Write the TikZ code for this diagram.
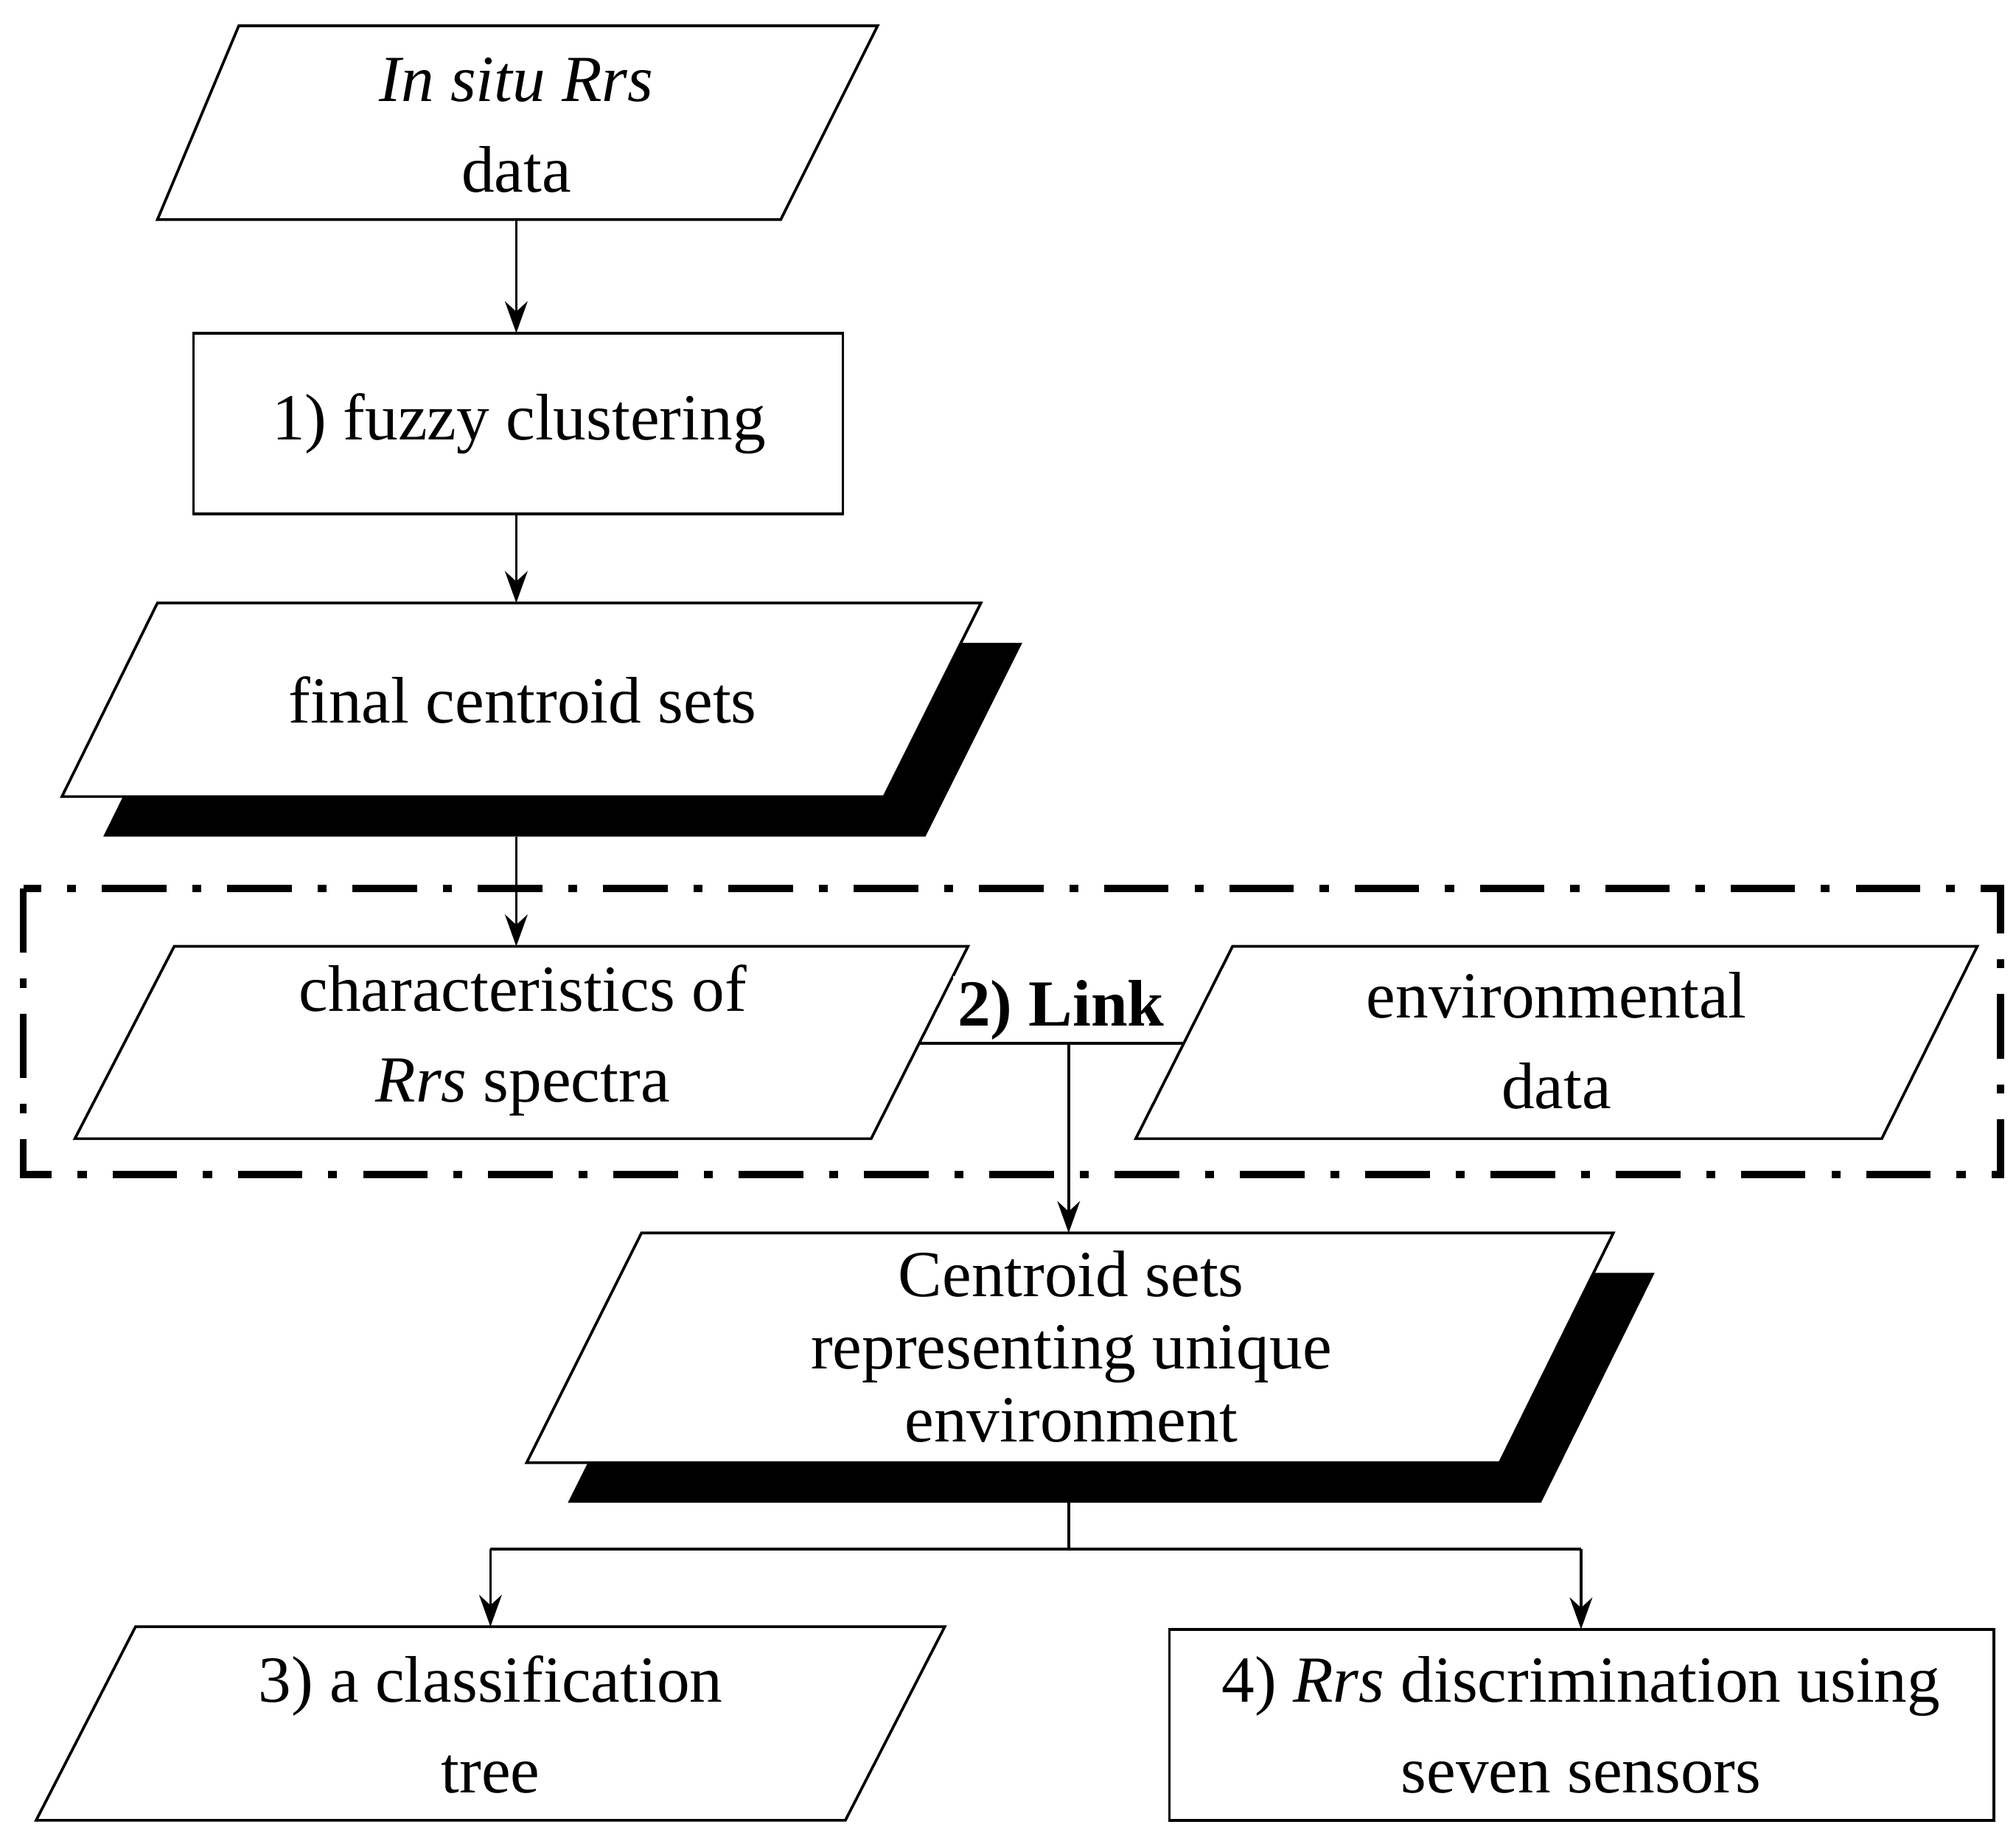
\documentclass[tikz,border=0pt]{standalone}
\usepackage{fontspec}
\setmainfont{Liberation Serif}
\usetikzlibrary{arrows.meta}
\begin{document}
\begin{tikzpicture}[x=0.01cm,y=-0.01cm,
  every node/.style={font=\fontsize{14.5}{18}\selectfont,align=center,inner sep=0pt},
  box/.style={draw=black,fill=white,line width=0.6pt},
  shad/.style={fill=black},
  arr/.style={line width=0.6pt,-{Stealth[length=7pt,width=5pt]}},
  ln/.style={line width=0.6pt}]
\useasboundingbox (0,0) rectangle (1562,1417);
% 1 input
\draw[box] (185,20) -- (680,20) -- (605,170) -- (122,170) -- cycle;
\node (in) at (400,97) {\textit{In situ Rrs}\\[2pt]data};
% box 1
\draw[box] (150,258) rectangle (653,398);
\node (fc) at (402,328) {1) fuzzy clustering};
% final centroid
\fill[shad] (154,498) -- (792,498) -- (717,648) -- (80,648) -- cycle;
\draw[box] (122,467) -- (760,467) -- (685,617) -- (48,617) -- cycle;
\node (fcs) at (405,542) {final centroid sets};
% dash-dot box
\draw[line width=1.6pt,dash pattern=on 0.5cm off 0.2cm on 0.07cm off 0.2cm] (18,688) rectangle (1550,910);
% characteristics
\draw[box] (135,733) -- (750,733) -- (675,882) -- (58,882) -- cycle;
\node (ch) at (405,806) {characteristics of\\[2pt]\textit{Rrs} spectra};
% environmental
\draw[box] (955,733) -- (1532,733) -- (1458,882) -- (880,882) -- cycle;
\node (env) at (1206,806) {environmental\\[2pt]data};
% link
\coordinate (l1) at (712,808);
\coordinate (l2) at (917,808);
\coordinate (lm) at (828,808);
\node[fill=white,inner sep=1pt,anchor=south] (link) at (822,810) {\textbf{2) Link}};
\draw[ln] (l1) -- (l2);
% centroid sets
\fill[shad] (529,986) -- (1282,986) -- (1194,1164) -- (440,1164) -- cycle;
\draw[box] (497,955) -- (1250,955) -- (1162,1133) -- (408,1133) -- cycle;
\node (cs) at (830,1043) {Centroid sets\\[-2pt]representing unique\\[-2pt]environment};
% classification
\draw[box] (105,1260) -- (732,1260) -- (655,1410) -- (28,1410) -- cycle;
\node (ct) at (380,1336) {3) a classification\\[2pt]tree};
% box 4
\draw[box] (906,1262) rectangle (1545,1410);
\node (rd) at (1225,1336) {4) \textit{Rrs} discrimination using\\[2pt]seven sensors};
% arrows
\coordinate (a1) at (400,170); \coordinate (a2) at (400,258);
\coordinate (b1) at (400,398); \coordinate (b2) at (400,467);
\coordinate (c1) at (400,648); \coordinate (c2) at (400,733);
\coordinate (d2) at (828,955);
\coordinate (e1) at (828,1164); \coordinate (e2) at (828,1200);
\coordinate (f1) at (380,1200); \coordinate (f2) at (380,1260);
\coordinate (g1) at (1225,1200); \coordinate (g2) at (1225,1262);
\draw[arr] (a1) -- (a2);
\draw[arr] (b1) -- (b2);
\draw[arr] (c1) -- (c2);
\draw[arr] (lm) -- (d2);
\draw[ln] (e1) -- (e2);
\draw[ln] (f1) -- (g1);
\draw[arr] (f1) -- (f2);
\draw[arr] (g1) -- (g2);
\end{tikzpicture}
\end{document}
